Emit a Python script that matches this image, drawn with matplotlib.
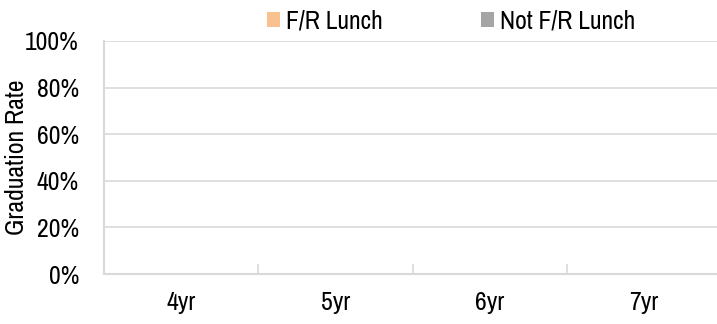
import matplotlib.pyplot as plt
from matplotlib.ticker import FixedLocator, PercentFormatter
import numpy as np

plt.rcParams['font.family'] = ['Archivo Narrow', 'Liberation Sans', 'DejaVu Sans']

# Graduation rates by years to graduate (no values reported)
years = ['4yr', '5yr', '6yr', '7yr']
fr_lunch = [0, 0, 0, 0]
not_fr_lunch = [0, 0, 0, 0]

grid_col = '#D9D9D9'
fs = 18.5

fig = plt.figure(figsize=(7.17, 3.24), dpi=100)
ax = fig.add_axes([104 / 717, 1 - 274 / 324, 617 / 717, 233 / 324])

x = np.arange(len(years))
width = 0.3
ax.bar(x - width / 2, fr_lunch, width=width, color='#F8C18F', linewidth=0, label='F/R Lunch')
ax.bar(x + width / 2, not_fr_lunch, width=width, color='#A5A5A5', linewidth=0, label='Not F/R Lunch')

ax.set_xlim(-0.5, len(years) - 0.5)
ax.set_ylim(0, 1)
ax.set_yticks(np.arange(0, 1.01, 0.2))
ax.yaxis.set_major_formatter(PercentFormatter(1.0, decimals=0))
ax.set_xticks(x)
ax.set_xticklabels(years)

# category dividers as small inward ticks
ax.xaxis.set_minor_locator(FixedLocator(np.arange(0.5, len(years) - 0.5, 1)))
ax.tick_params(axis='x', which='major', length=0, pad=12, labelsize=fs)
ax.tick_params(axis='x', which='minor', direction='in', length=7, width=1.2, color=grid_col)
ax.tick_params(axis='y', length=0, pad=18, labelsize=fs)

ax.grid(axis='y', color=grid_col, linewidth=1.2)
ax.set_axisbelow(True)
for side in ['top', 'right']:
    ax.spines[side].set_visible(False)
for side in ['left', 'bottom']:
    ax.spines[side].set_color(grid_col)
    ax.spines[side].set_linewidth(1.5)

ax.set_ylabel('Graduation Rate', fontsize=fs)
ax.yaxis.set_label_coords(-76 / 617, 0.5)

fig.legend(loc='center left', bbox_to_anchor=(267 / 717, 1 - 21 / 324), ncol=2,
           frameon=False, fontsize=fs, handlelength=0.5, handleheight=0.5,
           handletextpad=0.25, columnspacing=3.8, borderpad=0, borderaxespad=0)

fig.savefig('out.png', dpi=100)
